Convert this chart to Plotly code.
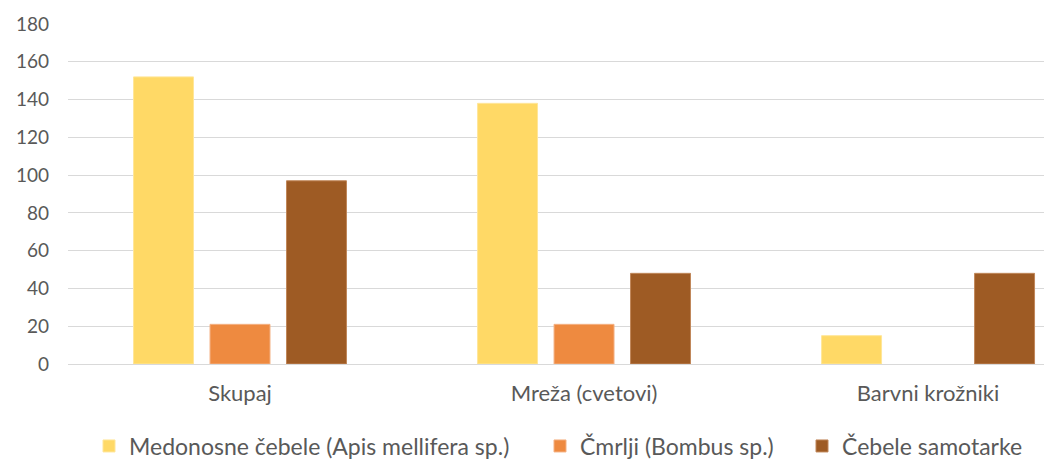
import plotly.graph_objects as go

categories = ["Skupaj", "Mreža (cvetovi)", "Barvni krožniki"]
series_names = ["Medonosne čebele (Apis mellifera sp.)", "Čmrlji (Bombus sp.)", "Čebele samotarke"]
medonosne = [152, 138, 15]
cmrlji = [21, 21, 0]
samotarke = [97, 48, 48]
y_ticks = [0, 20, 40, 60, 80, 100, 120, 140, 160, 180]

colors = ["#FFD966", "#EE8A40", "#9E5B24"]
borders = ["#FFE699", "#F4B183", "#C0875A"]
legend_ids = ["legend", "legend2", "legend3"]
legend_text_x = [129, 580, 842]   # px where each legend text starts

W, H = 1044, 459
fig = go.Figure()
for name, vals, c, b, lg in zip(series_names, [medonosne, cmrlji, samotarke], colors, borders, legend_ids):
    fig.add_trace(go.Bar(x=categories, y=vals, name=name, legend=lg,
                         marker=dict(color=c, line=dict(color=b, width=[0 if v == 0 else 1 for v in vals]))))

font_family = "Lato, 'Open Sans', sans-serif"
legend_common = dict(orientation="h", xref="container", yref="container", xanchor="left",
                     yanchor="middle", y=1 - 446 / H, bgcolor="rgba(0,0,0,0)",
                     font=dict(size=23, color="#595959"), itemwidth=30)
layout_legends = {}
for lg, tx in zip(legend_ids, legend_text_x):
    layout_legends[lg] = dict(legend_common, x=(tx - 40) / W)

fig.update_layout(
    width=W, height=H,
    margin=dict(l=68, r=0, t=24, b=95),
    paper_bgcolor="white", plot_bgcolor="white",
    barmode="group", bargap=0.333, bargroupgap=0.216,
    font=dict(family=font_family, size=18, color="#595959"),
    xaxis=dict(type="category", range=[-0.5, 2.337], showgrid=False, automargin=False,
               showline=False, ticks="", ticklabelstandoff=14,
               tickfont=dict(size=22, color="#595959")),
    yaxis=dict(range=[0, 180], tickvals=y_ticks, showgrid=True, gridcolor="#D9D9D9",
               gridwidth=1, zeroline=True, zerolinecolor="#D9D9D9", zerolinewidth=1,
               automargin=False, ticks="", ticklabelstandoff=18,
               tickfont=dict(size=19, color="#595959")),
    showlegend=True,
    **layout_legends,
)
fig.write_html("out.html")
